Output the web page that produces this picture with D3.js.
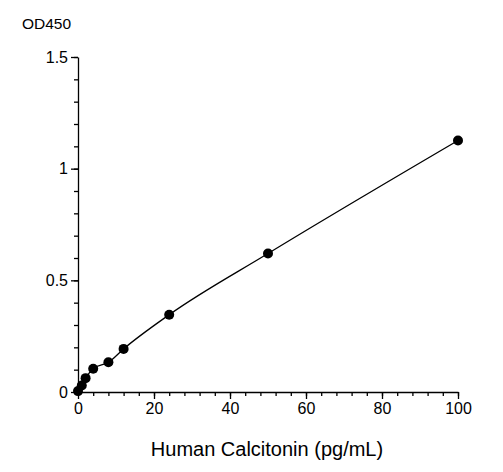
<!doctype html>
<html>
  <head>
    <meta charset="utf-8">
    <title>Human Calcitonin standard curve</title>
    <style>
      body { margin: 0; background: #fff; }
      text { font-family: "Liberation Sans", Arial, sans-serif; fill: #000; }
    </style>
    <script src="https://cdnjs.cloudflare.com/ajax/libs/d3/7.8.5/d3.min.js"></script>
  </head>
  <body>
    <div id="chart"></div>
    <script>
      // standard points
      const concentration = [0, 1, 2, 4, 8, 12, 24, 50, 100];
      const od450 = [0.004, 0.029, 0.062, 0.104, 0.133, 0.193, 0.346, 0.62, 1.126];
      const xTicks = [0, 20, 40, 60, 80, 100];
      const yTicks = [0, 0.5, 1, 1.5];

      const width = 503, height = 472;
      const margin = {left: 78, right: 45, top: 57, bottom: 80};

      const svg = d3.select('#chart')
        .append('svg')
        .attr('width', width)
        .attr('height', height);

      const x = d3.scaleLinear().domain([0, 100]).range([margin.left, width - margin.right]);
      const y = d3.scaleLinear().domain([0, 1.5]).range([height - margin.bottom, margin.top]);

      const points = concentration.map((c, i) => ({x: c, y: od450[i]}));

      // minor ticks
      svg.append('g')
        .attr('transform', `translate(0,${y(0)})`)
        .call(d3.axisBottom(x).tickValues(d3.range(0, 101, 4)).tickSize(4).tickFormat(''))
        .call(g => g.select('.domain').remove());
      svg.append('g')
        .attr('transform', `translate(${x(0)},0)`)
        .call(d3.axisLeft(y).tickValues(d3.range(0, 1.51, 0.1)).tickSize(4).tickFormat(''))
        .call(g => g.select('.domain').remove());

      const xAxis = svg.append('g')
        .attr('transform', `translate(0,${y(0)})`)
        .call(d3.axisBottom(x).tickValues(xTicks).tickSize(7).tickPadding(4).tickSizeOuter(0));
      const yAxis = svg.append('g')
        .attr('transform', `translate(${x(0)},0)`)
        .call(d3.axisLeft(y).tickValues(yTicks).tickSize(7).tickPadding(3).tickSizeOuter(0)
          .tickFormat(d => d));

      svg.selectAll('.domain, .tick line').attr('stroke', '#000').attr('stroke-width', 1.3);
      xAxis.selectAll('text').style('font-size', '16px');
      yAxis.selectAll('text').style('font-size', '16px');

      const line = d3.line()
        .x(d => x(d.x))
        .y(d => y(d.y))
        .curve(d3.curveMonotoneX);

      svg.append('path')
        .datum(points)
        .attr('d', line)
        .attr('fill', 'none')
        .attr('stroke', '#000')
        .attr('stroke-width', 1.3);

      svg.selectAll('circle')
        .data(points)
        .enter()
        .append('circle')
        .attr('cx', d => x(d.x))
        .attr('cy', d => y(d.y))
        .attr('r', 5)
        .attr('fill', '#000');

      svg.append('text')
        .attr('x', 22)
        .attr('y', 29)
        .style('font-size', '15.5px')
        .text('OD450');

      svg.append('text')
        .attr('x', (x(0) + x(100)) / 2 - 1)
        .attr('y', 456)
        .attr('text-anchor', 'middle')
        .style('font-size', '20px')
        .text('Human Calcitonin (pg/mL)');
    </script>
  </body>
</html>
